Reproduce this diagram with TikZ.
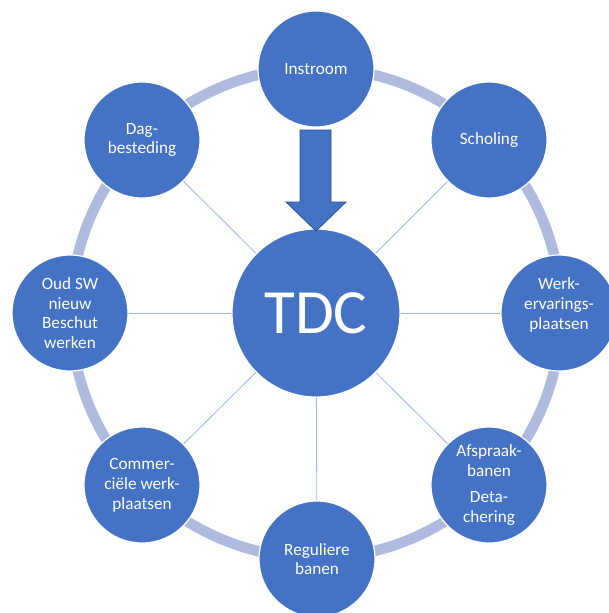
\documentclass[tikz,border=0pt]{standalone}
\usepackage{fontspec}
\setmainfont{Carlito}
\definecolor{nodeblue}{HTML}{4472C4}
\definecolor{ringblue}{HTML}{AEBBDE}
\definecolor{spokeblue}{HTML}{9FB5E2}
\definecolor{arrowedge}{HTML}{2F528F}
\begin{document}
\begin{tikzpicture}[x=1pt,y=-1pt,
  labeltext/.style={text=white, align=center,
    font=\fontsize{17.2}{19.8}\selectfont},
  outer/.style={circle, fill=nodeblue, draw=white, line width=1.2pt,
    minimum size=116pt, inner sep=0pt, labeltext},
  hub/.style={circle, fill=nodeblue, draw=white, line width=1.2pt,
    minimum size=168pt, inner sep=0pt, text=white,
    font=\fontsize{63}{70}\selectfont},
  spoke/.style={draw=spokeblue, line width=0.8pt},
  ring/.style={draw=ringblue, line width=10.5pt}]
\useasboundingbox (0,0) rectangle (609,613);
\fill[white] (0,0) rectangle (609,613);
\coordinate (c) at (316,313);
% outer ring
\draw[ring] (c) circle[radius=245pt];
% hub and satellites
\node[hub] (tdc) at (c) {TDC};
\node[outer] (in)  at (316,69)  {Instroom};
\node[outer] (sch) at (489,140) {Scholing};
\node[outer] (wep) at (559,313) {};
\node[labeltext] (weptext) at (559,305) {Werk-\\ervarings-\\plaatsen};
\node[outer] (afs) at (489,485) {Afspraak-\\banen\\[6pt]Deta-\\chering};
\node[outer] (reg) at (317,559) {Reguliere\\banen};
\node[outer] (com) at (142,485) {Commer-\\ciële werk-\\plaatsen};
\node[outer] (oud) at (70,313)  {Oud SW\\nieuw\\Beschut\\werken};
\node[outer] (dag) at (142,140) {Dag-\\besteding};
% spokes between hub and satellites
\foreach \n in {sch,wep,afs,reg,com,oud,dag}
  \draw[spoke] (tdc) -- (\n);
% inflow arrow
\filldraw[fill=nodeblue, draw=arrowedge, line width=0.8pt]
  (300,130) -- (331,130) -- (331,202) -- (346,202) -- (316,231)
  -- (286,202) -- (300,202) -- cycle;
\end{tikzpicture}
\end{document}
